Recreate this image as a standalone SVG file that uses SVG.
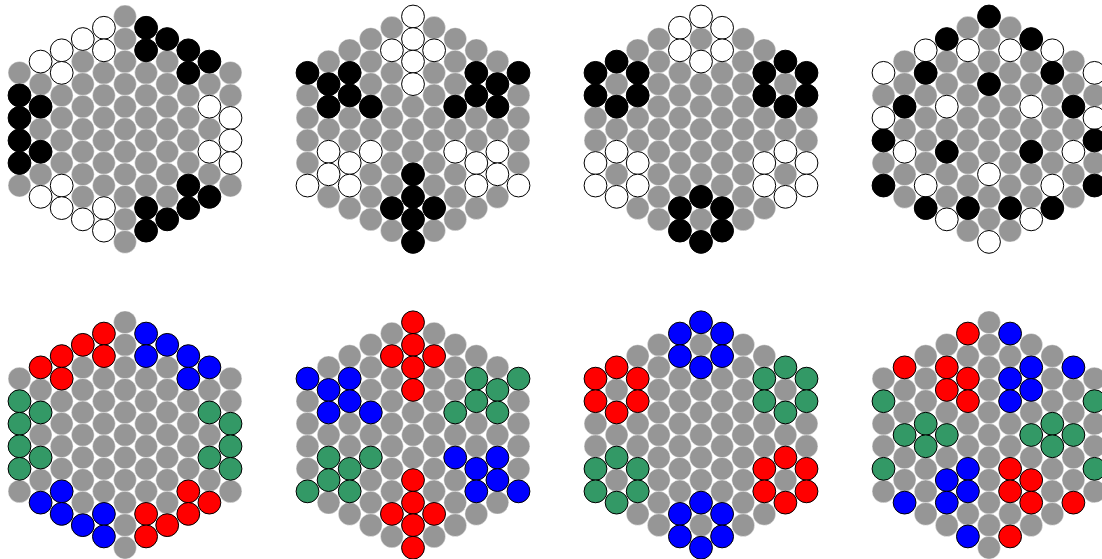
<svg xmlns="http://www.w3.org/2000/svg" xmlns:xlink="http://www.w3.org/1999/xlink" width="1102" height="559" viewBox="0 0 1102 559">
<style>
.g{fill:#969696;stroke:#ffffff;stroke-width:0.6;stroke-opacity:0.7}
.w{fill:#ffffff;stroke:#000;stroke-width:1}
.k{fill:#000000;stroke:#000;stroke-width:1}
.r{fill:#ff0000;stroke:#000;stroke-width:1}
.b{fill:#0000ff;stroke:#000;stroke-width:1}
.n{fill:#339966;stroke:#000;stroke-width:1}
</style>
<defs>
<g id="grid" class="g">
<circle cx="-105.5" cy="-56.35" r="11.4"/><circle cx="-105.5" cy="-33.81" r="11.4"/><circle cx="-105.5" cy="-11.27" r="11.4"/><circle cx="-105.5" cy="11.27" r="11.4"/><circle cx="-105.5" cy="33.81" r="11.4"/><circle cx="-105.5" cy="56.35" r="11.4"/>
<circle cx="-84.4" cy="-67.62" r="11.4"/><circle cx="-84.4" cy="-45.08" r="11.4"/><circle cx="-84.4" cy="-22.54" r="11.4"/><circle cx="-84.4" cy="0" r="11.4"/><circle cx="-84.4" cy="22.54" r="11.4"/><circle cx="-84.4" cy="45.08" r="11.4"/><circle cx="-84.4" cy="67.62" r="11.4"/>
<circle cx="-63.3" cy="-78.89" r="11.4"/><circle cx="-63.3" cy="-56.35" r="11.4"/><circle cx="-63.3" cy="-33.81" r="11.4"/><circle cx="-63.3" cy="-11.27" r="11.4"/><circle cx="-63.3" cy="11.27" r="11.4"/><circle cx="-63.3" cy="33.81" r="11.4"/><circle cx="-63.3" cy="56.35" r="11.4"/><circle cx="-63.3" cy="78.89" r="11.4"/>
<circle cx="-42.2" cy="-90.16" r="11.4"/><circle cx="-42.2" cy="-67.62" r="11.4"/><circle cx="-42.2" cy="-45.08" r="11.4"/><circle cx="-42.2" cy="-22.54" r="11.4"/><circle cx="-42.2" cy="0" r="11.4"/><circle cx="-42.2" cy="22.54" r="11.4"/><circle cx="-42.2" cy="45.08" r="11.4"/><circle cx="-42.2" cy="67.62" r="11.4"/><circle cx="-42.2" cy="90.16" r="11.4"/>
<circle cx="-21.1" cy="-101.43" r="11.4"/><circle cx="-21.1" cy="-78.89" r="11.4"/><circle cx="-21.1" cy="-56.35" r="11.4"/><circle cx="-21.1" cy="-33.81" r="11.4"/><circle cx="-21.1" cy="-11.27" r="11.4"/><circle cx="-21.1" cy="11.27" r="11.4"/><circle cx="-21.1" cy="33.81" r="11.4"/><circle cx="-21.1" cy="56.35" r="11.4"/><circle cx="-21.1" cy="78.89" r="11.4"/><circle cx="-21.1" cy="101.43" r="11.4"/>
<circle cx="0" cy="-112.7" r="11.4"/><circle cx="0" cy="-90.16" r="11.4"/><circle cx="0" cy="-67.62" r="11.4"/><circle cx="0" cy="-45.08" r="11.4"/><circle cx="0" cy="-22.54" r="11.4"/><circle cx="0" cy="0" r="11.4"/><circle cx="0" cy="22.54" r="11.4"/><circle cx="0" cy="45.08" r="11.4"/><circle cx="0" cy="67.62" r="11.4"/><circle cx="0" cy="90.16" r="11.4"/><circle cx="0" cy="112.7" r="11.4"/>
<circle cx="21.1" cy="-101.43" r="11.4"/><circle cx="21.1" cy="-78.89" r="11.4"/><circle cx="21.1" cy="-56.35" r="11.4"/><circle cx="21.1" cy="-33.81" r="11.4"/><circle cx="21.1" cy="-11.27" r="11.4"/><circle cx="21.1" cy="11.27" r="11.4"/><circle cx="21.1" cy="33.81" r="11.4"/><circle cx="21.1" cy="56.35" r="11.4"/><circle cx="21.1" cy="78.89" r="11.4"/><circle cx="21.1" cy="101.43" r="11.4"/>
<circle cx="42.2" cy="-90.16" r="11.4"/><circle cx="42.2" cy="-67.62" r="11.4"/><circle cx="42.2" cy="-45.08" r="11.4"/><circle cx="42.2" cy="-22.54" r="11.4"/><circle cx="42.2" cy="0" r="11.4"/><circle cx="42.2" cy="22.54" r="11.4"/><circle cx="42.2" cy="45.08" r="11.4"/><circle cx="42.2" cy="67.62" r="11.4"/><circle cx="42.2" cy="90.16" r="11.4"/>
<circle cx="63.3" cy="-78.89" r="11.4"/><circle cx="63.3" cy="-56.35" r="11.4"/><circle cx="63.3" cy="-33.81" r="11.4"/><circle cx="63.3" cy="-11.27" r="11.4"/><circle cx="63.3" cy="11.27" r="11.4"/><circle cx="63.3" cy="33.81" r="11.4"/><circle cx="63.3" cy="56.35" r="11.4"/><circle cx="63.3" cy="78.89" r="11.4"/>
<circle cx="84.4" cy="-67.62" r="11.4"/><circle cx="84.4" cy="-45.08" r="11.4"/><circle cx="84.4" cy="-22.54" r="11.4"/><circle cx="84.4" cy="0" r="11.4"/><circle cx="84.4" cy="22.54" r="11.4"/><circle cx="84.4" cy="45.08" r="11.4"/><circle cx="84.4" cy="67.62" r="11.4"/>
<circle cx="105.5" cy="-56.35" r="11.4"/><circle cx="105.5" cy="-33.81" r="11.4"/><circle cx="105.5" cy="-11.27" r="11.4"/><circle cx="105.5" cy="11.27" r="11.4"/><circle cx="105.5" cy="33.81" r="11.4"/><circle cx="105.5" cy="56.35" r="11.4"/>
</g>
</defs>
<rect width="1102" height="559" fill="#ffffff"/>

<g id="hex1" transform="translate(125,129.2)">
<use href="#grid" xlink:href="#grid"/>
<g class="w">
<circle cx="-84.4" cy="-67.62" r="11.4"/><circle cx="-63.3" cy="-78.89" r="11.4"/><circle cx="-63.3" cy="-56.35" r="11.4"/><circle cx="-42.2" cy="-90.16" r="11.4"/><circle cx="-21.1" cy="-101.43" r="11.4"/><circle cx="-21.1" cy="-78.89" r="11.4"/>
<circle cx="-84.4" cy="67.62" r="11.4"/><circle cx="-63.3" cy="56.35" r="11.4"/><circle cx="-63.3" cy="78.89" r="11.4"/><circle cx="-42.2" cy="90.16" r="11.4"/><circle cx="-21.1" cy="78.89" r="11.4"/><circle cx="-21.1" cy="101.43" r="11.4"/>
<circle cx="105.5" cy="-11.27" r="11.4"/><circle cx="105.5" cy="11.27" r="11.4"/><circle cx="105.5" cy="33.81" r="11.4"/><circle cx="84.4" cy="-22.54" r="11.4"/><circle cx="84.4" cy="22.54" r="11.4"/>
</g>
<g class="k">
<circle cx="21.1" cy="-101.43" r="11.4"/><circle cx="21.1" cy="-78.89" r="11.4"/><circle cx="42.2" cy="-90.16" r="11.4"/><circle cx="63.3" cy="-78.89" r="11.4"/><circle cx="63.3" cy="-56.35" r="11.4"/><circle cx="84.4" cy="-67.62" r="11.4"/>
<circle cx="21.1" cy="78.89" r="11.4"/><circle cx="21.1" cy="101.43" r="11.4"/><circle cx="42.2" cy="90.16" r="11.4"/><circle cx="63.3" cy="56.35" r="11.4"/><circle cx="63.3" cy="78.89" r="11.4"/><circle cx="84.4" cy="67.62" r="11.4"/>
<circle cx="-105.5" cy="-33.81" r="11.4"/><circle cx="-105.5" cy="-11.27" r="11.4"/><circle cx="-105.5" cy="11.27" r="11.4"/><circle cx="-105.5" cy="33.81" r="11.4"/><circle cx="-84.4" cy="-22.54" r="11.4"/><circle cx="-84.4" cy="22.54" r="11.4"/>
</g>
</g>

<g id="hex2" transform="translate(413,129.2)">
<use href="#grid" xlink:href="#grid"/>
<g class="k">
<circle cx="-105.5" cy="-56.35" r="11.4"/><circle cx="-84.4" cy="-45.08" r="11.4"/><circle cx="-84.4" cy="-22.54" r="11.4"/><circle cx="-63.3" cy="-56.35" r="11.4"/><circle cx="-63.3" cy="-33.81" r="11.4"/><circle cx="-42.2" cy="-22.54" r="11.4"/>
<circle cx="105.5" cy="-56.35" r="11.4"/><circle cx="84.4" cy="-45.08" r="11.4"/><circle cx="84.4" cy="-22.54" r="11.4"/><circle cx="63.3" cy="-56.35" r="11.4"/><circle cx="63.3" cy="-33.81" r="11.4"/><circle cx="42.2" cy="-22.54" r="11.4"/>
<circle cx="0" cy="45.08" r="11.4"/><circle cx="0" cy="67.62" r="11.4"/><circle cx="0" cy="90.16" r="11.4"/><circle cx="0" cy="112.7" r="11.4"/><circle cx="-21.1" cy="78.89" r="11.4"/><circle cx="21.1" cy="78.89" r="11.4"/>
</g>
<g class="w">
<circle cx="0" cy="-112.7" r="11.4"/><circle cx="0" cy="-90.16" r="11.4"/><circle cx="0" cy="-67.62" r="11.4"/><circle cx="0" cy="-45.08" r="11.4"/><circle cx="-21.1" cy="-78.89" r="11.4"/><circle cx="21.1" cy="-78.89" r="11.4"/>
<circle cx="-105.5" cy="56.35" r="11.4"/><circle cx="-84.4" cy="22.54" r="11.4"/><circle cx="-84.4" cy="45.08" r="11.4"/><circle cx="-63.3" cy="33.81" r="11.4"/><circle cx="-63.3" cy="56.35" r="11.4"/><circle cx="-42.2" cy="22.54" r="11.4"/>
<circle cx="105.5" cy="56.35" r="11.4"/><circle cx="84.4" cy="22.54" r="11.4"/><circle cx="84.4" cy="45.08" r="11.4"/><circle cx="63.3" cy="33.81" r="11.4"/><circle cx="63.3" cy="56.35" r="11.4"/><circle cx="42.2" cy="22.54" r="11.4"/>
</g>
</g>

<g id="hex3" transform="translate(701,129.2)">
<use href="#grid" xlink:href="#grid"/>
<g class="k">
<circle cx="-105.5" cy="-56.35" r="11.4"/><circle cx="-105.5" cy="-33.81" r="11.4"/><circle cx="-84.4" cy="-67.62" r="11.4"/><circle cx="-84.4" cy="-22.54" r="11.4"/><circle cx="-63.3" cy="-56.35" r="11.4"/><circle cx="-63.3" cy="-33.81" r="11.4"/>
<circle cx="105.5" cy="-56.35" r="11.4"/><circle cx="105.5" cy="-33.81" r="11.4"/><circle cx="84.4" cy="-67.62" r="11.4"/><circle cx="84.4" cy="-22.54" r="11.4"/><circle cx="63.3" cy="-56.35" r="11.4"/><circle cx="63.3" cy="-33.81" r="11.4"/>
<circle cx="0" cy="67.62" r="11.4"/><circle cx="0" cy="112.7" r="11.4"/><circle cx="-21.1" cy="78.89" r="11.4"/><circle cx="-21.1" cy="101.43" r="11.4"/><circle cx="21.1" cy="78.89" r="11.4"/><circle cx="21.1" cy="101.43" r="11.4"/>
</g>
<g class="w">
<circle cx="0" cy="-112.7" r="11.4"/><circle cx="0" cy="-67.62" r="11.4"/><circle cx="-21.1" cy="-101.43" r="11.4"/><circle cx="-21.1" cy="-78.89" r="11.4"/><circle cx="21.1" cy="-101.43" r="11.4"/><circle cx="21.1" cy="-78.89" r="11.4"/>
<circle cx="-105.5" cy="33.81" r="11.4"/><circle cx="-105.5" cy="56.35" r="11.4"/><circle cx="-84.4" cy="22.54" r="11.4"/><circle cx="-84.4" cy="67.62" r="11.4"/><circle cx="-63.3" cy="33.81" r="11.4"/><circle cx="-63.3" cy="56.35" r="11.4"/>
<circle cx="105.5" cy="33.81" r="11.4"/><circle cx="105.5" cy="56.35" r="11.4"/><circle cx="84.4" cy="22.54" r="11.4"/><circle cx="84.4" cy="67.62" r="11.4"/><circle cx="63.3" cy="33.81" r="11.4"/><circle cx="63.3" cy="56.35" r="11.4"/>
</g>
</g>

<g id="hex4" transform="translate(989,129.2)">
<use href="#grid" xlink:href="#grid"/>
<g class="w">
<circle cx="-105.5" cy="-56.35" r="11.4"/><circle cx="-105.5" cy="-11.27" r="11.4"/><circle cx="-84.4" cy="22.54" r="11.4"/><circle cx="-63.3" cy="-78.89" r="11.4"/><circle cx="-63.3" cy="56.35" r="11.4"/><circle cx="-42.2" cy="-22.54" r="11.4"/><circle cx="-42.2" cy="90.16" r="11.4"/><circle cx="-21.1" cy="-78.89" r="11.4"/><circle cx="0" cy="45.08" r="11.4"/><circle cx="0" cy="112.7" r="11.4"/><circle cx="21.1" cy="-78.89" r="11.4"/><circle cx="42.2" cy="-22.54" r="11.4"/><circle cx="42.2" cy="90.16" r="11.4"/><circle cx="63.3" cy="-78.89" r="11.4"/><circle cx="63.3" cy="56.35" r="11.4"/><circle cx="84.4" cy="22.54" r="11.4"/><circle cx="105.5" cy="-56.35" r="11.4"/><circle cx="105.5" cy="-11.27" r="11.4"/>
</g>
<g class="k">
<circle cx="-105.5" cy="11.27" r="11.4"/><circle cx="-105.5" cy="56.35" r="11.4"/><circle cx="-84.4" cy="-22.54" r="11.4"/><circle cx="-63.3" cy="-56.35" r="11.4"/><circle cx="-63.3" cy="78.89" r="11.4"/><circle cx="-42.2" cy="-90.16" r="11.4"/><circle cx="-42.2" cy="22.54" r="11.4"/><circle cx="-21.1" cy="78.89" r="11.4"/><circle cx="0" cy="-112.7" r="11.4"/><circle cx="0" cy="-45.08" r="11.4"/><circle cx="21.1" cy="78.89" r="11.4"/><circle cx="42.2" cy="-90.16" r="11.4"/><circle cx="42.2" cy="22.54" r="11.4"/><circle cx="63.3" cy="-56.35" r="11.4"/><circle cx="63.3" cy="78.89" r="11.4"/><circle cx="84.4" cy="-22.54" r="11.4"/><circle cx="105.5" cy="11.27" r="11.4"/><circle cx="105.5" cy="56.35" r="11.4"/>
</g>
</g>

<g id="hex5" transform="translate(125,435)">
<use href="#grid" xlink:href="#grid"/>
<g class="r">
<circle cx="-84.4" cy="-67.62" r="11.4"/><circle cx="-63.3" cy="-78.89" r="11.4"/><circle cx="-63.3" cy="-56.35" r="11.4"/><circle cx="-42.2" cy="-90.16" r="11.4"/><circle cx="-21.1" cy="-101.43" r="11.4"/><circle cx="-21.1" cy="-78.89" r="11.4"/>
<circle cx="21.1" cy="78.89" r="11.4"/><circle cx="21.1" cy="101.43" r="11.4"/><circle cx="42.2" cy="90.16" r="11.4"/><circle cx="63.3" cy="56.35" r="11.4"/><circle cx="63.3" cy="78.89" r="11.4"/><circle cx="84.4" cy="67.62" r="11.4"/>
</g>
<g class="b">
<circle cx="21.1" cy="-101.43" r="11.4"/><circle cx="21.1" cy="-78.89" r="11.4"/><circle cx="42.2" cy="-90.16" r="11.4"/><circle cx="63.3" cy="-78.89" r="11.4"/><circle cx="63.3" cy="-56.35" r="11.4"/><circle cx="84.4" cy="-67.62" r="11.4"/>
<circle cx="-84.4" cy="67.62" r="11.4"/><circle cx="-63.3" cy="56.35" r="11.4"/><circle cx="-63.3" cy="78.89" r="11.4"/><circle cx="-42.2" cy="90.16" r="11.4"/><circle cx="-21.1" cy="78.89" r="11.4"/><circle cx="-21.1" cy="101.43" r="11.4"/>
</g>
<g class="n">
<circle cx="-105.5" cy="-33.81" r="11.4"/><circle cx="-105.5" cy="-11.27" r="11.4"/><circle cx="-105.5" cy="11.27" r="11.4"/><circle cx="-105.5" cy="33.81" r="11.4"/><circle cx="-84.4" cy="-22.54" r="11.4"/><circle cx="-84.4" cy="22.54" r="11.4"/>
<circle cx="105.5" cy="-11.27" r="11.4"/><circle cx="105.5" cy="11.27" r="11.4"/><circle cx="105.5" cy="33.81" r="11.4"/><circle cx="84.4" cy="-22.54" r="11.4"/><circle cx="84.4" cy="22.54" r="11.4"/>
</g>
</g>

<g id="hex6" transform="translate(413,435)">
<use href="#grid" xlink:href="#grid"/>
<g class="b">
<circle cx="-105.5" cy="-56.35" r="11.4"/><circle cx="-84.4" cy="-45.08" r="11.4"/><circle cx="-84.4" cy="-22.54" r="11.4"/><circle cx="-63.3" cy="-56.35" r="11.4"/><circle cx="-63.3" cy="-33.81" r="11.4"/><circle cx="-42.2" cy="-22.54" r="11.4"/>
<circle cx="105.5" cy="56.35" r="11.4"/><circle cx="84.4" cy="22.54" r="11.4"/><circle cx="84.4" cy="45.08" r="11.4"/><circle cx="63.3" cy="33.81" r="11.4"/><circle cx="63.3" cy="56.35" r="11.4"/><circle cx="42.2" cy="22.54" r="11.4"/>
</g>
<g class="n">
<circle cx="105.5" cy="-56.35" r="11.4"/><circle cx="84.4" cy="-45.08" r="11.4"/><circle cx="84.4" cy="-22.54" r="11.4"/><circle cx="63.3" cy="-56.35" r="11.4"/><circle cx="63.3" cy="-33.81" r="11.4"/><circle cx="42.2" cy="-22.54" r="11.4"/>
<circle cx="-105.5" cy="56.35" r="11.4"/><circle cx="-84.4" cy="22.54" r="11.4"/><circle cx="-84.4" cy="45.08" r="11.4"/><circle cx="-63.3" cy="33.81" r="11.4"/><circle cx="-63.3" cy="56.35" r="11.4"/><circle cx="-42.2" cy="22.54" r="11.4"/>
</g>
<g class="r">
<circle cx="0" cy="-112.7" r="11.4"/><circle cx="0" cy="-90.16" r="11.4"/><circle cx="0" cy="-67.62" r="11.4"/><circle cx="0" cy="-45.08" r="11.4"/><circle cx="-21.1" cy="-78.89" r="11.4"/><circle cx="21.1" cy="-78.89" r="11.4"/>
<circle cx="0" cy="45.08" r="11.4"/><circle cx="0" cy="67.62" r="11.4"/><circle cx="0" cy="90.16" r="11.4"/><circle cx="0" cy="112.7" r="11.4"/><circle cx="-21.1" cy="78.89" r="11.4"/><circle cx="21.1" cy="78.89" r="11.4"/>
</g>
</g>

<g id="hex7" transform="translate(701,435)">
<use href="#grid" xlink:href="#grid"/>
<g class="r">
<circle cx="-105.5" cy="-56.35" r="11.4"/><circle cx="-105.5" cy="-33.81" r="11.4"/><circle cx="-84.4" cy="-67.62" r="11.4"/><circle cx="-84.4" cy="-22.54" r="11.4"/><circle cx="-63.3" cy="-56.35" r="11.4"/><circle cx="-63.3" cy="-33.81" r="11.4"/>
<circle cx="105.5" cy="33.81" r="11.4"/><circle cx="105.5" cy="56.35" r="11.4"/><circle cx="84.4" cy="22.54" r="11.4"/><circle cx="84.4" cy="67.62" r="11.4"/><circle cx="63.3" cy="33.81" r="11.4"/><circle cx="63.3" cy="56.35" r="11.4"/>
</g>
<g class="n">
<circle cx="105.5" cy="-56.35" r="11.4"/><circle cx="105.5" cy="-33.81" r="11.4"/><circle cx="84.4" cy="-67.62" r="11.4"/><circle cx="84.4" cy="-22.54" r="11.4"/><circle cx="63.3" cy="-56.35" r="11.4"/><circle cx="63.3" cy="-33.81" r="11.4"/>
<circle cx="-105.5" cy="33.81" r="11.4"/><circle cx="-105.5" cy="56.35" r="11.4"/><circle cx="-84.4" cy="22.54" r="11.4"/><circle cx="-84.4" cy="67.62" r="11.4"/><circle cx="-63.3" cy="33.81" r="11.4"/><circle cx="-63.3" cy="56.35" r="11.4"/>
</g>
<g class="b">
<circle cx="0" cy="-112.7" r="11.4"/><circle cx="0" cy="-67.62" r="11.4"/><circle cx="-21.1" cy="-101.43" r="11.4"/><circle cx="-21.1" cy="-78.89" r="11.4"/><circle cx="21.1" cy="-101.43" r="11.4"/><circle cx="21.1" cy="-78.89" r="11.4"/>
<circle cx="0" cy="67.62" r="11.4"/><circle cx="0" cy="112.7" r="11.4"/><circle cx="-21.1" cy="78.89" r="11.4"/><circle cx="-21.1" cy="101.43" r="11.4"/><circle cx="21.1" cy="78.89" r="11.4"/><circle cx="21.1" cy="101.43" r="11.4"/>
</g>
</g>

<g id="hex8" transform="translate(989,435)">
<use href="#grid" xlink:href="#grid"/>
<g class="r">
<circle cx="-84.4" cy="-67.62" r="11.4"/><circle cx="-42.2" cy="-67.62" r="11.4"/><circle cx="-42.2" cy="-45.08" r="11.4"/><circle cx="-21.1" cy="-101.43" r="11.4"/><circle cx="-21.1" cy="-56.35" r="11.4"/><circle cx="-21.1" cy="-33.81" r="11.4"/>
<circle cx="21.1" cy="33.81" r="11.4"/><circle cx="21.1" cy="56.35" r="11.4"/><circle cx="21.1" cy="101.43" r="11.4"/><circle cx="42.2" cy="45.08" r="11.4"/><circle cx="42.2" cy="67.62" r="11.4"/><circle cx="84.4" cy="67.62" r="11.4"/>
</g>
<g class="b">
<circle cx="-84.4" cy="67.62" r="11.4"/><circle cx="-42.2" cy="45.08" r="11.4"/><circle cx="-42.2" cy="67.62" r="11.4"/><circle cx="-21.1" cy="33.81" r="11.4"/><circle cx="-21.1" cy="56.35" r="11.4"/><circle cx="-21.1" cy="101.43" r="11.4"/>
<circle cx="21.1" cy="-101.43" r="11.4"/><circle cx="21.1" cy="-56.35" r="11.4"/><circle cx="21.1" cy="-33.81" r="11.4"/><circle cx="42.2" cy="-67.62" r="11.4"/><circle cx="42.2" cy="-45.08" r="11.4"/><circle cx="84.4" cy="-67.62" r="11.4"/>
</g>
<g class="n">
<circle cx="-105.5" cy="-33.81" r="11.4"/><circle cx="-105.5" cy="33.81" r="11.4"/><circle cx="-84.4" cy="0" r="11.4"/><circle cx="-63.3" cy="-11.27" r="11.4"/><circle cx="-63.3" cy="11.27" r="11.4"/><circle cx="-42.2" cy="0" r="11.4"/>
<circle cx="42.2" cy="0" r="11.4"/><circle cx="63.3" cy="-11.27" r="11.4"/><circle cx="63.3" cy="11.27" r="11.4"/><circle cx="84.4" cy="0" r="11.4"/><circle cx="105.5" cy="-33.81" r="11.4"/><circle cx="105.5" cy="33.81" r="11.4"/>
</g>
</g>
</svg>
